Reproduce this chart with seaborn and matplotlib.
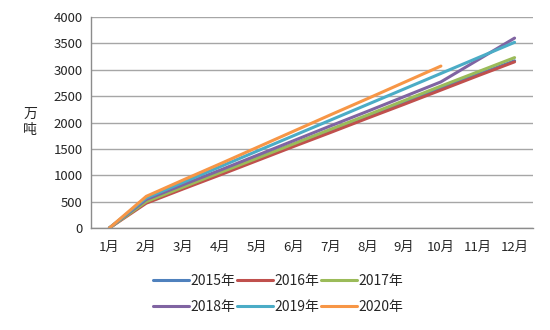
import numpy as np
import pandas as pd
import matplotlib
matplotlib.use("Agg")
import matplotlib.pyplot as plt
import seaborn as sns

months = ["1月", "2月", "3月", "4月", "5月", "6月", "7月", "8月", "9月", "10月", "11月", "12月"]
years = ["2015年", "2016年", "2017年", "2018年", "2019年", "2020年"]
v2015 = [0, 530, 795, 1060, 1325, 1590, 1850, 2115, 2380, 2645, 2910, 3170]
v2016 = [0, 470, 740, 1005, 1275, 1545, 1810, 2080, 2345, 2615, 2885, 3150]
v2017 = [0, 500, 775, 1050, 1320, 1595, 1870, 2140, 2415, 2690, 2960, 3230]
v2018 = [0, 540, 820, 1095, 1375, 1655, 1935, 2210, 2490, 2770, 3185, 3600]
v2019 = [0, 570, 865, 1160, 1455, 1750, 2045, 2340, 2635, 2930, 3225, 3520]
v2020 = [0, 600, 910, 1215, 1525, 1835, 2145, 2450, 2760, 3070, np.nan, np.nan]
colors = ["#4F81BD", "#C0504D", "#9BBB59", "#8064A2", "#4BACC6", "#F79646"]

series = [v2015, v2016, v2017, v2018, v2019, v2020]
rows = []
for y, vals in zip(years, series):
    for i, v in enumerate(vals):
        rows.append({"month": i, "value": v, "year": y})
df = pd.DataFrame(rows).dropna()

sns.set_style("white")
plt.rcParams["font.family"] = ["Noto Sans CJK SC", "DejaVu Sans"]

fig = plt.figure(figsize=(5.5, 3.3), dpi=100)
ax = fig.add_axes([91/550, 1-228/330, (533-91)/550, (228-17)/330])
sns.lineplot(data=df, x="month", y="value", hue="year", palette=colors,
             hue_order=years, linewidth=2.2, ax=ax, legend=True)

ax.set_xlim(-0.5, 11.5)
ax.set_ylim(0, 4000)
ax.set_yticks(np.arange(0, 4001, 500))
ax.yaxis.grid(True, color="#A6A6A6", linewidth=1)
ax.set_axisbelow(True)
ax.set_xticks(range(12))
ax.set_xticklabels(months)
ax.set_xticks(np.arange(-0.5, 12, 1), minor=True)
ax.tick_params(axis="x", which="major", length=0, pad=9, labelsize=9.5, colors="#262626")
ax.tick_params(axis="x", which="minor", length=5, width=1, color="#8C8C8C", direction="out")
ax.tick_params(axis="y", length=0, labelsize=9.5, colors="#262626", pad=6)
for s in ["top", "right"]:
    ax.spines[s].set_visible(False)
for s in ["left", "bottom"]:
    ax.spines[s].set_color("#8C8C8C")
    ax.spines[s].set_linewidth(1)
ax.set_xlabel("")
ax.set_ylabel("")
fig.text(30/550, 1-122/330, "万\n吨", ha="center", va="center", fontsize=10,
         color="#262626", linespacing=1.2)

handles, labels = ax.get_legend_handles_labels()
order = [0, 3, 1, 4, 2, 5]
ax.legend([handles[i] for i in order], [labels[i] for i in order], ncol=3, loc="center",
          bbox_to_anchor=(278/550, 1-294/330),
          bbox_transform=fig.transFigure, frameon=False, fontsize=10,
          handlelength=2.6, handletextpad=0.1, columnspacing=0.1, labelspacing=0.9)

fig.savefig("out.png", dpi=100)
